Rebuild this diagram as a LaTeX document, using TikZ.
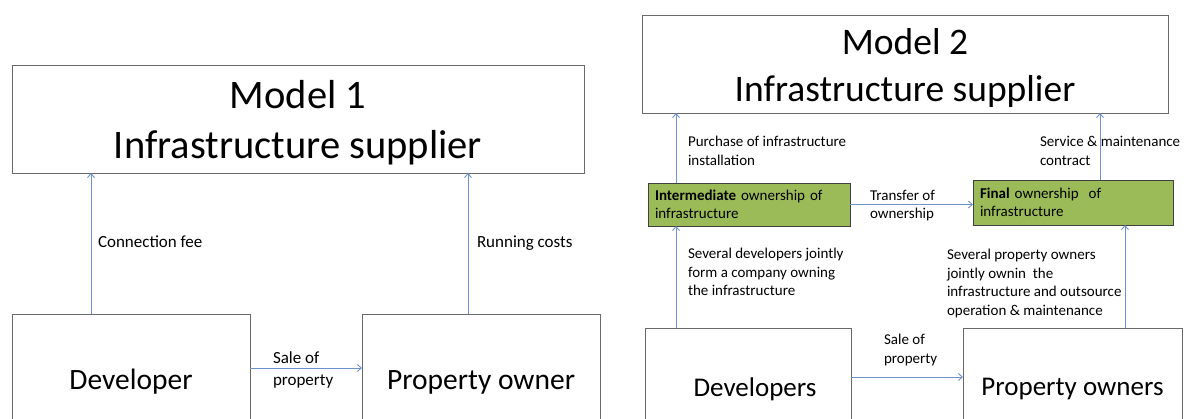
\documentclass[tikz,border=0pt]{standalone}
\usepackage{fontspec}
\setmainfont{Carlito}
\usepackage{tikz}
\usetikzlibrary{arrows.meta}
\definecolor{myBlue}{RGB}{110,145,205}
\definecolor{myGreen}{RGB}{155,187,89}
\definecolor{myGray}{RGB}{105,105,105}

\begin{document}
\begin{tikzpicture}[%
	x=1pt, y=-1pt,
	every node/.style={
		inner sep=0pt,
		outer sep=0pt,
	},
	bigbox/.style={draw=myGray, line width=0.8pt, align=center},
	greenbox/.style={draw=black!75, fill=myGreen, line width=0.8pt,
		align=left, inner xsep=7pt, font=\fontsize{15}{18}\selectfont},
	lbl/.style={anchor=west, align=left, font=\fontsize{15}{18.5}\selectfont},
	biglbl/.style={anchor=west, align=left, font=\fontsize{17}{21.5}\selectfont},
	arr/.style={myBlue, line width=0.9pt, -{Straight Barb[length=4pt, width=7pt]}},
	]
	\useasboundingbox (0,0) rectangle (1184,419);
	\clip (0,0) rectangle (1184,419);
	
	% model 1 boxes
	\node[bigbox, minimum width=572, minimum height=108, font=\fontsize{40.5}{50}\selectfont]
		(model1) at (298,119) {\rule{0pt}{35pt}Model 1\\Infrastructure supplier};
	\node[bigbox, minimum width=238, minimum height=136, font=\fontsize{29.5}{35}\selectfont]
		(dev1) at (131,382) {Developer};
	\node[bigbox, minimum width=238, minimum height=136, font=\fontsize{29.5}{35}\selectfont]
		(owner1) at (481,382) {Property owner};
	
	% model 1 arrows
	\coordinate (feeX) at (91,0);
	\coordinate (costX) at (468,0);
	\coordinate (sale1Y) at (0,368);
	\draw[arr] (dev1.north -| feeX) -- (model1.south -| feeX);
	\draw[arr] (owner1.north -| costX) -- (model1.south -| costX);
	\draw[arr] (dev1.east |- sale1Y) -- (owner1.west |- sale1Y);
	
	% model 1 labels
	\node[biglbl] (fee) at (98,242) {Connection fee};
	\node[biglbl] (cost) at (477,243) {Running costs};
	\node[biglbl] (sale1) at (273,370) {Sale of\\property};
	
	% model 2 boxes
	\node[bigbox, minimum width=526, minimum height=98, font=\fontsize{37.5}{47}\selectfont]
		(model2) at (905,64) {\rule{0pt}{34pt}Model 2\\Infrastructure supplier};
	\node[greenbox, text width=188, minimum height=43]
		(inter) at (749,204.5) {\textbf{Intermediate} ownership of\\infrastructure};
	\node[greenbox, text width=186, minimum height=45]
		(final) at (1073,202.5) {\textbf{Final} ownership\ \ of\\infrastructure};
	\node[bigbox, minimum width=206, minimum height=122, font=\fontsize{27}{33}\selectfont]
		(devs2) at (748,389) {\hspace*{14pt}Developers};
	\node[bigbox, minimum width=219, minimum height=122, font=\fontsize{27}{33}\selectfont]
		(owners2) at (1072.5,389) {Property owners};
	
	% model 2 arrows
	\coordinate (buyX) at (676,0);
	\coordinate (servX) at (1100,0);
	\coordinate (jointX) at (1125,0);
	\coordinate (sale2Y) at (0,377);
	\draw[arr] (inter.north -| buyX) -- (model2.south -| buyX);
	\draw[arr] (final.north -| servX) -- (model2.south -| servX);
	\draw[arr] (inter.east) -- (inter.east -| final.west);
	\draw[arr] (devs2.north -| buyX) -- (inter.south -| buyX);
	\draw[arr] (owners2.north -| jointX) -- (final.south -| jointX);
	\draw[arr] (devs2.east |- sale2Y) -- (owners2.west |- sale2Y);
	
	% model 2 labels
	\node[lbl] (buy) at (688,151) {Purchase of infrastructure\\installation};
	\node[lbl] (serv) at (1040,151) {Service \& maintenance\\contract};
	\node[lbl] (transfer) at (870,205.5) {Transfer of\\ownership};
	\node[lbl] (company) at (688,272) {Several developers jointly\\form a company owning\\the infrastructure};
	\node[lbl] (jointly) at (947,283.5) {Several property owners\\jointly ownin\ \ the\\infrastructure and outsource\\operation \& maintenance};
	\node[lbl] (sale2) at (884,350) {Sale of\\property};
\end{tikzpicture}
\end{document}
